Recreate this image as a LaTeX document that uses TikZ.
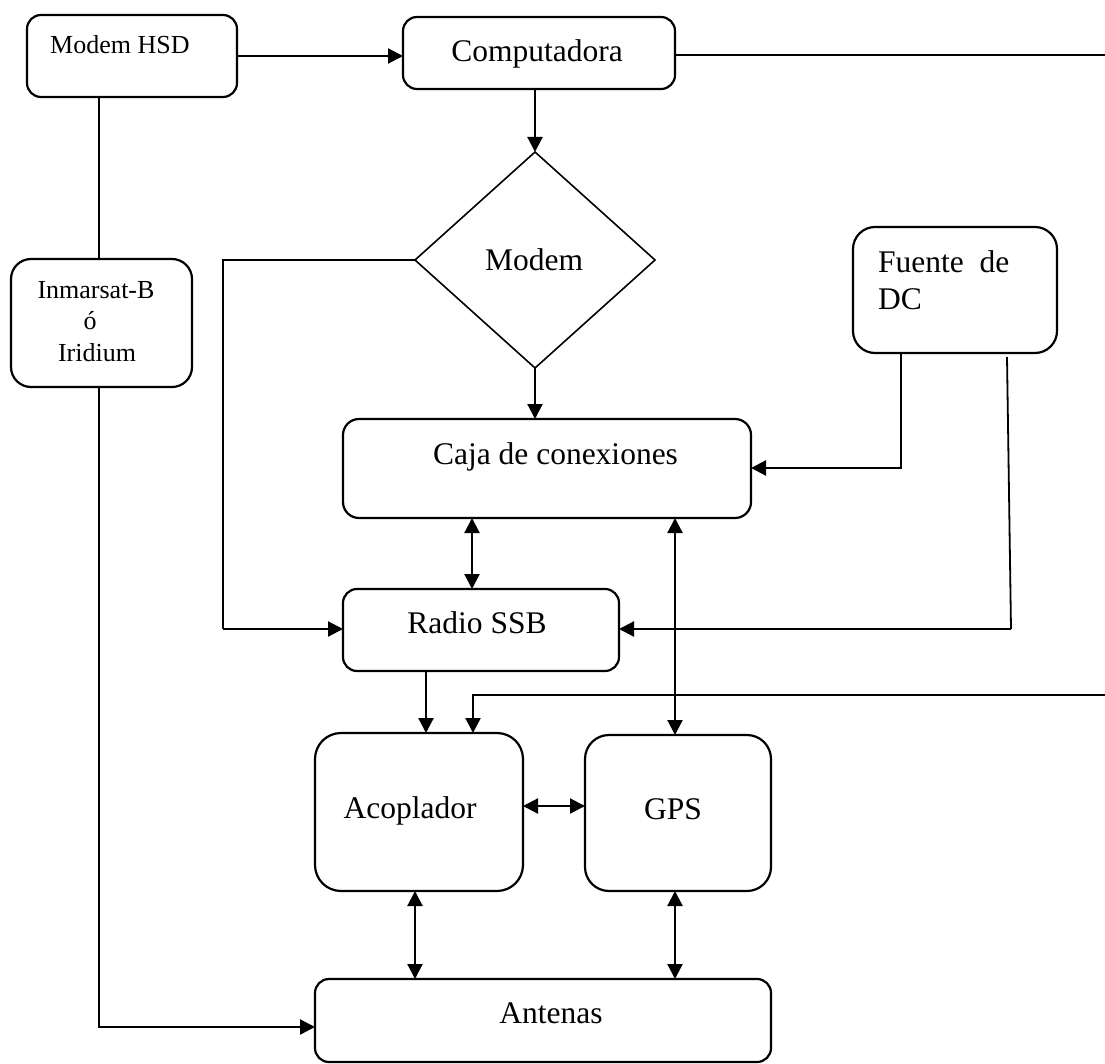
\documentclass[tikz,border=0pt]{standalone}
\usepackage{fontspec}
\setmainfont{Liberation Serif}
\usetikzlibrary{arrows.meta,shapes.geometric}
\begin{document}
\begin{tikzpicture}[x=1pt,y=-1pt,
  box/.style={draw, line width=2.2pt, inner sep=0pt, outer sep=0pt},
  lbl/.style={inner sep=0pt, anchor=base, font=\fontsize{31.5}{36}\selectfont},
  slbl/.style={inner sep=0pt, anchor=base, font=\fontsize{26}{30}\selectfont},
  conn/.style={line width=2.2pt},
  arr/.style={conn, -{Triangle[length=15pt,width=15pt]}},
  darr/.style={conn, {Triangle[length=15pt,width=15pt]}-{Triangle[length=15pt,width=15pt]}}]
\useasboundingbox (0,0) rectangle (1105,1064);

% boxes
\node[box, rounded corners=14pt, minimum width=210pt, minimum height=82pt] (hsd) at (132,56) {};
\node[box, rounded corners=14pt, minimum width=272pt, minimum height=72pt] (comp) at (539,53) {};
\node[draw, line width=1.6pt, diamond, inner sep=0pt, outer sep=0pt, minimum width=240pt, minimum height=216pt] (modem) at (535,260) {};
\node[box, rounded corners=20pt, minimum width=181pt, minimum height=128pt] (inm) at (101.5,323) {};
\node[box, rounded corners=22pt, minimum width=204pt, minimum height=126pt] (fuente) at (955,290) {};
\node[box, rounded corners=16pt, minimum width=408pt, minimum height=99pt] (caja) at (547,468.5) {};
\node[box, rounded corners=14pt, minimum width=276pt, minimum height=82pt] (radio) at (481,630) {};
\node[box, rounded corners=26pt, minimum width=208pt, minimum height=158pt] (acop) at (419,812) {};
\node[box, rounded corners=24pt, minimum width=186pt, minimum height=156pt] (gps) at (678,813) {};
\node[box, rounded corners=14pt, minimum width=456pt, minimum height=83pt] (ant) at (543,1020.5) {};

% texts
\node[slbl, anchor=base west] (thsd) at (50,54) {Modem HSD};
\node[lbl] (tcomp) at (537,62) {Computadora};
\node[lbl] (tmodem) at (534,271) {Modem};
\node[slbl] (tinm1) at (96,299) {Inmarsat-B};
\node[slbl] (tinm2) at (90,330) {ó};
\node[slbl] (tinm3) at (97,361) {Iridium};
\node[lbl, anchor=base west] (tf1) at (878,273) {Fuente\ \ de};
\node[lbl, anchor=base west] (tf2) at (878,310) {DC};
\node[lbl] (tcaja) at (555.5,464) {Caja de conexiones};
\node[lbl] (tradio) at (477,633) {Radio SSB};
\node[lbl] (tacop) at (410,818) {Acoplador};
\node[lbl] (tgps) at (673,819) {GPS};
\node[lbl] (tant) at (551,1023) {Antenas};

% helper coordinates
\coordinate (rtop) at (1105,55);
\coordinate (lft) at (223,629);
\coordinate (f1) at (901,468);
\coordinate (f2top) at (1007,357);
\coordinate (f2bot) at (1011,629);
\coordinate (c1) at (472,0);
\coordinate (c2) at (675,0);
\coordinate (c3) at (426,0);
\coordinate (rmid) at (1105,695);
\coordinate (c4) at (473,695);
\coordinate (c5) at (0,806);
\coordinate (c6) at (99,0);
\coordinate (c7) at (0,1027);
\coordinate (c8) at (415,0);

% connectors
\draw[arr] (hsd.east) -- (comp.west |- hsd.east);
\draw[conn] (comp.east |- rtop) -- (rtop);
\draw[arr] (comp.south -| modem.north) -- (modem.north);
\draw[conn, line width=1.8pt] (modem.west) -| (lft);
\draw[arr] (lft) -- (radio.west |- lft);
\draw[arr] (modem.south) -- (modem.south |- caja.north);
\draw[arr] (f1 |- fuente.south) -- (f1) -- (f1 -| caja.east);
\draw[conn, line width=1.8pt] (f2top) -- (f2bot);
\draw[arr] (f2bot) -- (radio.east |- f2bot);
\draw[darr] (caja.south -| c1) -- (radio.north -| c1);
\draw[darr] (caja.south -| c2) -- (gps.north -| c2);
\draw[arr] (radio.south -| c3) -- (acop.north -| c3);
\draw[arr] (rmid) -- (c4) -- (acop.north -| c4);
\draw[darr] (acop.east |- c5) -- (gps.west |- c5);
\draw[darr] (acop.south -| c8) -- (ant.north -| c8);
\draw[darr] (gps.south -| c2) -- (ant.north -| c2);
\draw[conn] (hsd.south -| c6) -- (inm.north -| c6);
\draw[arr] (inm.south -| c6) |- (ant.west |- c7);
\end{tikzpicture}
\end{document}
